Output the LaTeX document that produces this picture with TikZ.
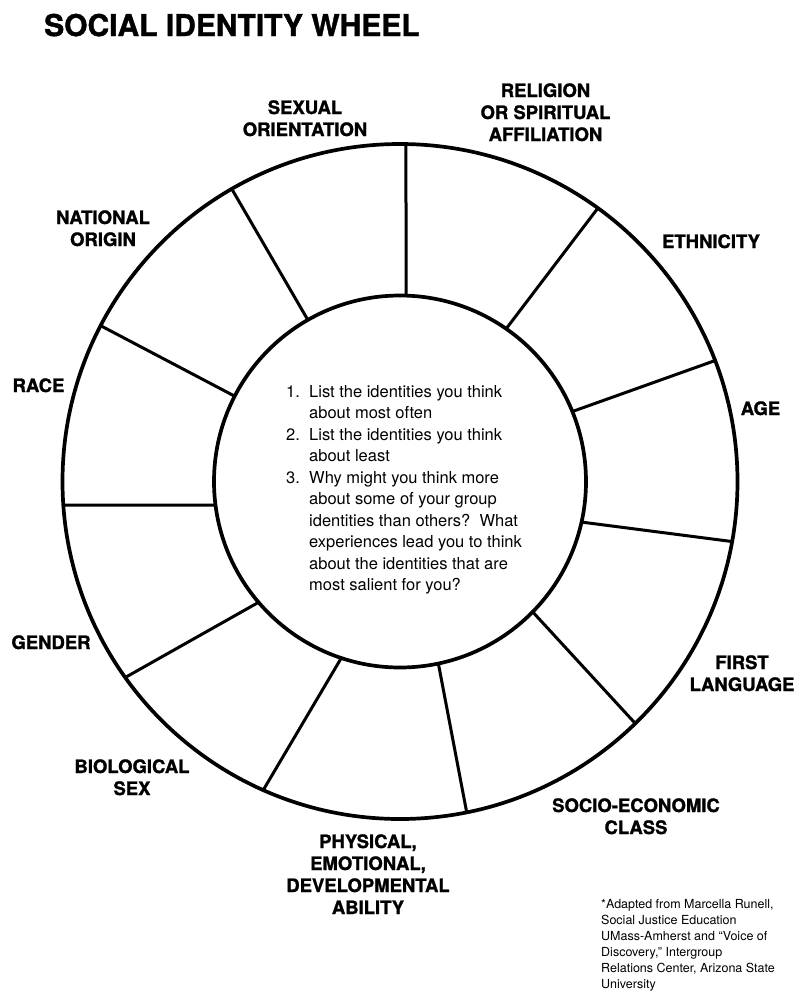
\documentclass[tikz,border=0pt]{standalone}
\usepackage{fontspec}
\setmainfont{TeX Gyre Heros}
\newfontfamily\wheavy{texgyreheros-bold.otf}[FakeBold=1.3]
\newcommand\wtitlefont{\fontsize{30}{36}\selectfont\wheavy}
\newcommand\wlabfont{\fontsize{18.5}{22}\selectfont\wheavy}
\newcommand\wlistfont{\fontsize{16.5}{21.5}\selectfont}
\newcommand\wnotefont{\fontsize{12.5}{16}\selectfont}
\tikzset{
  ring/.style={line width=3.7pt},
  spoke/.style={line width=3pt},
  lab/.style={anchor=base, inner sep=0pt, font=\wlabfont},
}
\begin{document}
\begin{tikzpicture}[x=1pt,y=-1pt]
\useasboundingbox (0,0) rectangle (800,997);
\fill[white] (0,0) rectangle (800,997);
\coordinate (c) at (400,481.5);
% rings
\draw[ring] (c) circle[radius=337.5pt];
\draw[ring] (c) circle[radius=186pt];
% spokes
\foreach \a/\b in {88.1/89.0, 119.7/119.9, 55.2/54.1, 22.1/21.0, -12.6/-10.25,
  -44.5/-45.8, -78.1/-78.6, -108.4/-113.9, -139.5/-144.5, -172.7/-176.0, 152.7/152.5}
  \draw[spoke] ([shift={(c)}]\a:186pt) -- ([shift={(c)}]\b:337.5pt);
% title
\node[anchor=base west, inner sep=0pt, font=\wtitlefont] (title) at (44,36) {SOCIAL IDENTITY WHEEL};
% labels
\node[lab] (sex) at (305,114) {\begin{tabular}[t]{@{}c@{}}SEXUAL\\ORIENTATION\end{tabular}};
\node[lab] (rel) at (545.5,97) {\begin{tabular}[t]{@{}c@{}}RELIGION\\OR SPIRITUAL\\AFFILIATION\end{tabular}};
\node[lab] (nat) at (103,224) {\begin{tabular}[t]{@{}c@{}}NATIONAL\\ORIGIN\end{tabular}};
\node[lab] (eth) at (711,248) {ETHNICITY};
\node[lab] (race) at (38.5,392) {RACE};
\node[lab] (age) at (760.5,415) {AGE};
\node[lab] (gen) at (51,649) {GENDER};
\node[lab] (lang) at (742,669) {\begin{tabular}[t]{@{}c@{}}FIRST\\LANGUAGE\end{tabular}};
\node[lab] (bio) at (132,773) {\begin{tabular}[t]{@{}c@{}}BIOLOGICAL\\SEX\end{tabular}};
\node[lab] (ses) at (636,812) {\begin{tabular}[t]{@{}c@{}}SOCIO-ECONOMIC\\CLASS\end{tabular}};
\node[lab] (abl) at (368,848) {\begin{tabular}[t]{@{}c@{}}PHYSICAL,\\EMOTIONAL,\\DEVELOPMENTAL\\ABILITY\end{tabular}};
% centre list
\node[anchor=base west, inner sep=0pt, font=\wlistfont] (list) at (286,397) {%
\begin{tabular}[t]{@{}p{23pt}@{}l@{}}
1. & List the identities you think\\
   & about most often\\
2. & List the identities you think\\
   & about least\\
3. & Why might you think more\\
   & about some of your group\\
   & identities than others?\ \ What\\
   & experiences lead you to think\\
   & about the identities that are\\
   & most salient for you?
\end{tabular}};
% footnote
\node[anchor=base west, inner sep=0pt, font=\wnotefont] (note) at (601,908) {%
\begin{tabular}[t]{@{}l@{}}
*Adapted from Marcella Runell,\\
Social Justice Education\\
UMass-Amherst and “Voice of\\
Discovery,” Intergroup\\
Relations Center, Arizona State\\
University
\end{tabular}};
\end{tikzpicture}
\end{document}
